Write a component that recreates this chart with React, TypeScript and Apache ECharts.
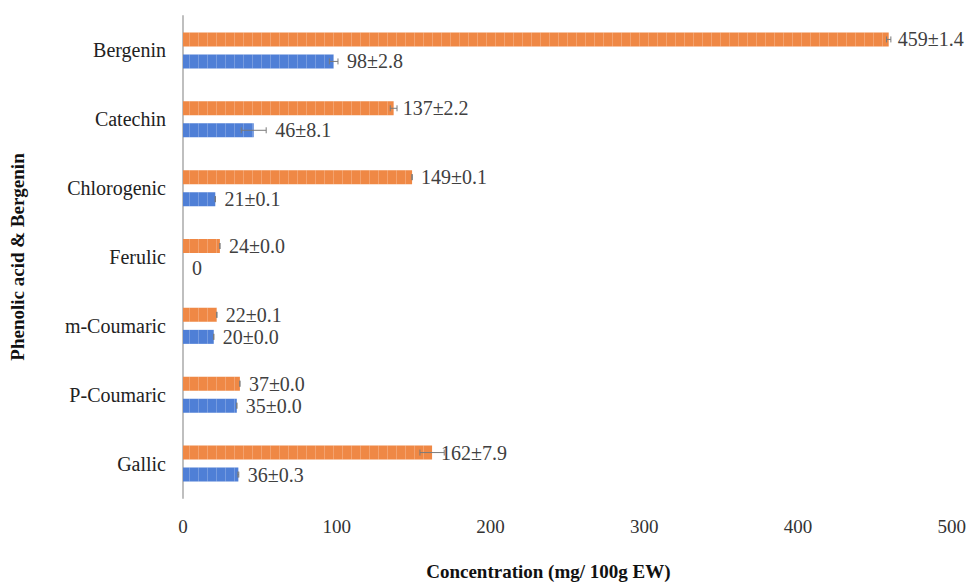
import React, { useEffect, useRef } from "react";
import * as echarts from "echarts";

const categories = ["Gallic", "P-Coumaric", "m-Coumaric", "Ferulic", "Chlorogenic", "Catechin", "Bergenin"];
const orangeValues = [162, 37, 22, 24, 149, 137, 459];
const orangeErrors = [7.9, 0.0, 0.1, 0.0, 0.1, 2.2, 1.4];
const blueValues = [36, 35, 20, 0, 21, 46, 98];
const blueErrors: (number | null)[] = [0.3, 0.0, 0.0, null, 0.1, 8.1, 2.8];
const xTicks = [0, 100, 200, 300, 400, 500];

const SERIF = "'Liberation Serif', 'Times New Roman', serif";
const BAR_W = 14;
const BAR_GAP_PX = 8;
const PX_PER_UNIT = (969 - 180 - 14) / 500;

export default function App() {
  const ref = useRef<HTMLDivElement>(null);

  useEffect(() => {
    document.body.style.margin = "0";
    if (!ref.current) return;
    const chart = echarts.init(ref.current, null, { renderer: "svg" });

    const fmt = (vals: number[], errs: (number | null)[]) => (p: any) => {
      const e = errs[p.dataIndex];
      const v = vals[p.dataIndex];
      return e === null || e === undefined ? `${v}` : `${v}±${e.toFixed(1)}`;
    };

    const half = (BAR_W + BAR_GAP_PX) / 2;

    const errSeries = (vals: number[], errs: (number | null)[], dy: number) => ({
      type: "custom",
      silent: true,
      z: 5,
      encode: { x: 0, y: 1 },
      data: vals.map((v, i) => [v, i, errs[i] === null ? -1 : errs[i]]),
      renderItem: (params: any, api: any) => {
        const v = api.value(0);
        const cat = api.value(1);
        const e = api.value(2);
        if (e < 0) return null;
        const l = api.coord([v - e, cat]);
        const r = api.coord([v + e, cat]);
        const y = l[1] + dy;
        const cap = 3;
        const style = { stroke: "#7a7a7a", lineWidth: 1 };
        return {
          type: "group",
          children: [
            { type: "line", shape: { x1: l[0], y1: y, x2: r[0], y2: y }, style },
            { type: "line", shape: { x1: l[0], y1: y - cap, x2: l[0], y2: y + cap }, style },
            { type: "line", shape: { x1: r[0], y1: y - cap, x2: r[0], y2: y + cap }, style },
          ],
        };
      },
    });

    const decal = {
      symbol: "rect",
      symbolSize: 1,
      color: "rgba(255,255,255,0.22)",
      dashArrayX: [1, 8],
      dashArrayY: [4, 0],
      rotation: 0,
    };

    const labelStyle = {
      show: true,
      position: "right" as const,
      distance: 9,
      fontFamily: SERIF,
      fontSize: 20,
      color: "#404040",
    };

    const blueData = blueValues.map((v, i) => {
      const e = blueErrors[i];
      const extra = e ? e * PX_PER_UNIT : 0;
      return { value: v, label: { distance: 9 + extra } };
    });

    chart.setOption({
      animation: false,
      backgroundColor: "#ffffff",
      grid: { left: 180, right: 14, top: 16, bottom: 81, containLabel: false },
      xAxis: {
        type: "value",
        min: xTicks[0],
        max: xTicks[xTicks.length - 1],
        interval: 100,
        axisLine: { show: false },
        axisTick: { show: false },
        splitLine: { show: false },
        axisLabel: { fontFamily: SERIF, fontSize: 19, color: "#333", margin: 19 },
        name: "Concentration (mg/ 100g EW)",
        nameLocation: "middle",
        nameGap: 64,
        nameTextStyle: { fontFamily: SERIF, fontSize: 19, fontWeight: "bold", color: "#111", padding: [0, 38, 0, 0] },
      },
      yAxis: {
        type: "category",
        data: categories,
        axisLine: { show: true, lineStyle: { color: "#bfbfbf", width: 2 } },
        axisTick: { show: false },
        axisLabel: { fontFamily: SERIF, fontSize: 20, color: "#222", margin: 17 },
        name: "Phenolic acid & Bergenin",
        nameLocation: "middle",
        nameGap: 156,
        nameRotate: 90,
        nameTextStyle: { fontFamily: SERIF, fontSize: 19, fontWeight: "bold", color: "#111" },
      },
      series: [
        {
          type: "bar",
          name: "Orange",
          data: orangeValues,
          barWidth: BAR_W,
          barGap: `${(BAR_GAP_PX / BAR_W) * 100}%`,
          itemStyle: { color: "#EF8845", decal },
          label: { ...labelStyle, formatter: fmt(orangeValues, orangeErrors) },
        },
        {
          type: "bar",
          name: "Blue",
          data: blueData,
          barWidth: BAR_W,
          itemStyle: { color: "#4F7FD6", decal },
          label: { ...labelStyle, formatter: fmt(blueValues, blueErrors) },
        },
        errSeries(orangeValues, orangeErrors, -half),
        errSeries(blueValues, blueErrors, half),
      ],
    });

    return () => chart.dispose();
  }, []);

  return <div ref={ref} style={{ width: 969, height: 586 }} />;
}
